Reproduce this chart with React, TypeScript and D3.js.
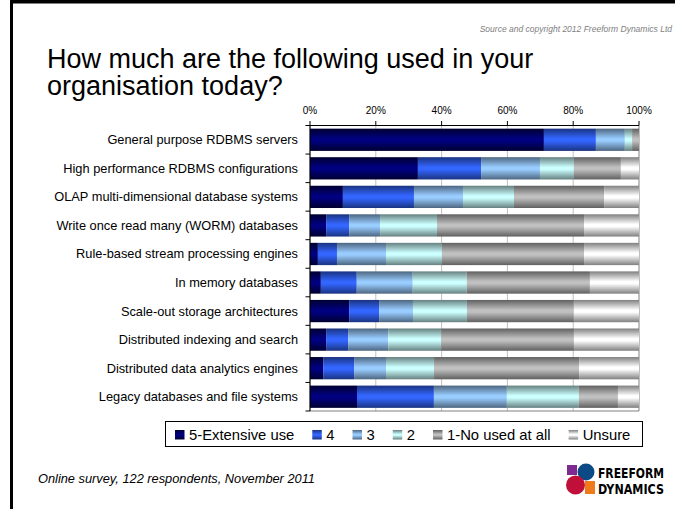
import { useEffect, useRef } from "react";
import * as d3 from "d3";

const categories = [
  "General purpose RDBMS servers",
  "High performance RDBMS configurations",
  "OLAP multi-dimensional database systems",
  "Write once read many (WORM) databases",
  "Rule-based stream processing engines",
  "In memory databases",
  "Scale-out storage architectures",
  "Distributed indexing and search",
  "Distributed data analytics engines",
  "Legacy databases and file systems",
];

const seriesKeys = ["5-Extensive use", "4", "3", "2", "1-No used at all", "Unsure"];

// percent of respondents
const extensive = [71.1, 32.8, 10.0, 4.9, 2.4, 3.3, 11.9, 4.9, 4.0, 14.3];
const four = [15.8, 19.2, 21.6, 7.0, 5.8, 10.9, 9.1, 6.7, 9.4, 23.4];
const three = [8.8, 17.9, 14.9, 9.4, 14.9, 17.0, 10.3, 12.2, 9.7, 22.2];
const two = [2.2, 10.3, 15.5, 17.3, 17.0, 16.4, 16.4, 16.1, 14.6, 21.9];
const notUsed = [2.1, 14.3, 27.4, 44.7, 43.2, 37.4, 32.5, 40.4, 44.1, 11.9];
const unsure = [0.0, 5.5, 10.6, 16.7, 16.7, 14.9, 19.8, 19.8, 18.2, 6.4];

const tickValues = [0, 0.2, 0.4, 0.6, 0.8, 1];

// [middle, edge] colours of the shaded fills
const fills: [string, string][] = [
  ["#000080", "#000030"],
  ["#3366ff", "#1a3380"],
  ["#99ccff", "#4d6680"],
  ["#ccffff", "#668080"],
  ["#c0c0c0", "#606060"],
  ["#ffffff", "#808080"],
];

const FONT = "'Liberation Sans', Arial, sans-serif";
const LOGO_FONT = "'DejaVu Sans Condensed', 'Liberation Sans Narrow', sans-serif";

export default function App() {
  const svgRef = useRef<SVGSVGElement>(null);

  useEffect(() => {
    if (!svgRef.current) return;
    const W = 675;
    const H = 509;
    const svg = d3.select(svgRef.current);
    svg.selectAll("*").remove();

    const defs = svg.append("defs");
    fills.forEach(([mid, edge], i) => {
      const g = defs
        .append("linearGradient")
        .attr("id", `grad${i}`)
        .attr("x1", 0)
        .attr("y1", 0)
        .attr("x2", 0)
        .attr("y2", 1);
      g.append("stop").attr("offset", "0%").attr("stop-color", edge);
      g.append("stop").attr("offset", "45%").attr("stop-color", mid);
      g.append("stop").attr("offset", "55%").attr("stop-color", mid);
      g.append("stop").attr("offset", "100%").attr("stop-color", edge);
    });

    svg.append("rect").attr("width", W).attr("height", H).attr("fill", "#fff");

    // slide frame
    svg.append("rect").attr("x", 10).attr("y", 0).attr("width", 3).attr("height", H).attr("fill", "#000");
    svg.append("rect").attr("x", 10).attr("y", 0).attr("width", W - 10).attr("height", 3.5).attr("fill", "#000");

    svg
      .append("text")
      .attr("x", 672)
      .attr("y", 32)
      .attr("text-anchor", "end")
      .attr("font-family", FONT)
      .attr("font-style", "italic")
      .attr("font-size", 8.5)
      .attr("fill", "#808080")
      .text("Source and copyright 2012 Freeform Dynamics Ltd");

    svg
      .append("text")
      .attr("x", 47)
      .attr("y", 68)
      .attr("font-family", FONT)
      .attr("font-size", 27)
      .text("How much are the following used in your");
    svg
      .append("text")
      .attr("x", 47)
      .attr("y", 95)
      .attr("font-family", FONT)
      .attr("font-size", 27)
      .text("organisation today?");

    const rows = categories.map((c, i) => ({
      cat: c,
      [seriesKeys[0]]: extensive[i],
      [seriesKeys[1]]: four[i],
      [seriesKeys[2]]: three[i],
      [seriesKeys[3]]: two[i],
      [seriesKeys[4]]: notUsed[i],
      [seriesKeys[5]]: unsure[i],
    }));

    const stacked = d3
      .stack<any>()
      .keys(seriesKeys)
      .offset(d3.stackOffsetExpand)(rows);

    const x = d3.scaleLinear().domain([0, 1]).range([310, 639]);
    const y = d3
      .scaleBand<string>()
      .domain(categories)
      .range([125.5, 411])
      .paddingInner(0.22)
      .paddingOuter(0.11);

    // gridlines
    svg
      .append("g")
      .selectAll("line")
      .data(tickValues.slice(1, -1))
      .join("line")
      .attr("x1", (d) => x(d))
      .attr("x2", (d) => x(d))
      .attr("y1", y.range()[0])
      .attr("y2", y.range()[1])
      .attr("stroke", "#c0c0c0")
      .attr("stroke-width", 1);

    // plot area right/bottom border
    svg
      .append("path")
      .attr("d", `M${x(1)},${y.range()[0]}V${y.range()[1]}H${x(0)}`)
      .attr("fill", "none")
      .attr("stroke", "#808080")
      .attr("stroke-width", 1);

    svg
      .append("g")
      .selectAll("g")
      .data(stacked)
      .join("g")
      .attr("fill", (_d, i) => `url(#grad${i})`)
      .selectAll("rect")
      .data((d) => d)
      .join("rect")
      .attr("x", (d) => x(d[0]))
      .attr("width", (d) => Math.max(0, x(d[1]) - x(d[0])))
      .attr("y", (d) => y(d.data.cat)!)
      .attr("height", y.bandwidth());

    // top axis
    const top = svg.append("g").attr("transform", `translate(0,${y.range()[0]})`);
    top
      .append("line")
      .attr("x1", x(0))
      .attr("x2", x(1))
      .attr("stroke", "#000")
      .attr("stroke-width", 1.2);
    top
      .selectAll("line.tick")
      .data(tickValues)
      .join("line")
      .attr("class", "tick")
      .attr("x1", (d) => x(d))
      .attr("x2", (d) => x(d))
      .attr("y1", -4.5)
      .attr("y2", 0)
      .attr("stroke", "#000");
    top
      .selectAll("text")
      .data(tickValues)
      .join("text")
      .attr("x", (d) => x(d))
      .attr("y", -12)
      .attr("text-anchor", "middle")
      .attr("font-family", FONT)
      .attr("font-size", 10)
      .text((d) => d3.format(".0%")(d));

    // left axis
    const step = y.step();
    const bounds = d3.range(categories.length + 1).map((i) => y.range()[0] + i * step);
    const left = svg.append("g");
    left
      .append("line")
      .attr("x1", x(0))
      .attr("x2", x(0))
      .attr("y1", y.range()[0])
      .attr("y2", y.range()[1])
      .attr("stroke", "#000")
      .attr("stroke-width", 1.2);
    left
      .selectAll("line.tick")
      .data(bounds)
      .join("line")
      .attr("class", "tick")
      .attr("x1", x(0) - 4.5)
      .attr("x2", x(0))
      .attr("y1", (d) => d)
      .attr("y2", (d) => d)
      .attr("stroke", "#000");
    left
      .selectAll("text")
      .data(categories)
      .join("text")
      .attr("x", 298)
      .attr("y", (d) => y(d)! + y.bandwidth() / 2 + 4.5)
      .attr("text-anchor", "end")
      .attr("font-family", FONT)
      .attr("font-size", 12.8)
      .text((d) => d);

    // legend
    const lg = svg.append("g");
    lg.append("rect")
      .attr("x", 165.5)
      .attr("y", 421.5)
      .attr("width", 477)
      .attr("height", 25)
      .attr("fill", "#fff")
      .attr("stroke", "#000")
      .attr("stroke-width", 1);
    let lx = 175;
    seriesKeys.forEach((k, i) => {
      lg.append("rect")
        .attr("x", lx)
        .attr("y", 430)
        .attr("width", 9.5)
        .attr("height", 9.5)
        .attr("fill", `url(#grad${i})`);
      const t = lg
        .append("text")
        .attr("x", lx + 14)
        .attr("y", 440)
        .attr("font-family", FONT)
        .attr("font-size", 14.8)
        .text(k);
      const w = (t.node() as SVGTextElement).getComputedTextLength();
      lx = lx + 14 + w + 18;
    });

    svg
      .append("text")
      .attr("x", 38)
      .attr("y", 483)
      .attr("font-family", FONT)
      .attr("font-style", "italic")
      .attr("font-size", 12.8)
      .text("Online survey, 122 respondents, November 2011");

    // logo
    const logo = svg.append("g");
    logo.append("rect").attr("x", 567).attr("y", 465).attr("width", 10).attr("height", 10).attr("fill", "#7d2b90");
    logo.append("rect").attr("x", 585).attr("y", 481).attr("width", 10).attr("height", 13).attr("fill", "#ef7b1a");
    logo.append("circle").attr("cx", 586).attr("cy", 472).attr("r", 8.5).attr("fill", "#0c4a86");
    logo.append("circle").attr("cx", 575.5).attr("cy", 485).attr("r", 9.5).attr("fill", "#c0103a");
    ["FREEFORM", "DYNAMICS"].forEach((word, i) => {
      logo
        .append("text")
        .attr("x", 598)
        .attr("y", 478 + i * 16)
        .attr("font-family", LOGO_FONT)
        .attr("font-weight", "bold")
        .attr("font-size", 14)
        .attr("textLength", 66)
        .attr("lengthAdjust", "spacingAndGlyphs")
        .text(word);
    });
  }, []);

  return (
    <svg
      ref={svgRef}
      width={675}
      height={509}
      style={{ position: "absolute", left: 0, top: 0, display: "block" }}
    />
  );
}
